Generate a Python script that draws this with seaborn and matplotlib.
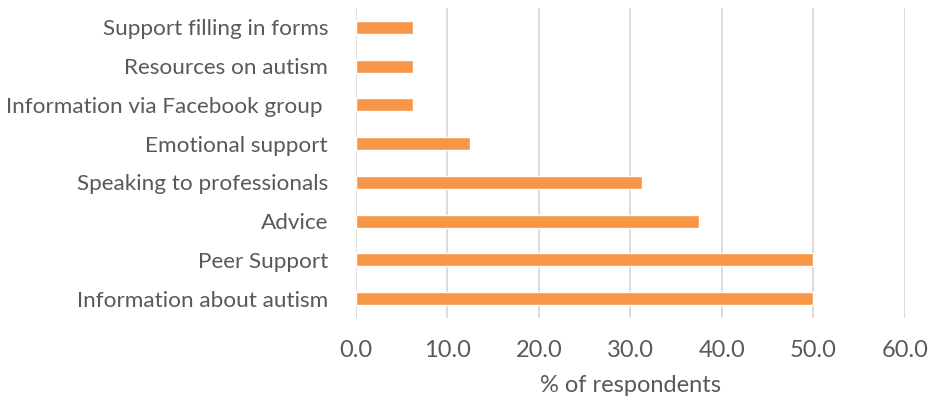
import matplotlib
matplotlib.use("Agg")
import matplotlib.pyplot as plt
import seaborn as sns
import pandas as pd

categories = [
    "Support filling in forms",
    "Resources on autism",
    "Information via Facebook group ",
    "Emotional support",
    "Speaking to professionals",
    "Advice",
    "Peer Support",
    "Information about autism",
]
percent = [6.25, 6.25, 6.25, 12.5, 31.25, 37.5, 50.0, 50.0]
x_ticks = [0, 10, 20, 30, 40, 50, 60]

df = pd.DataFrame({"category": categories, "percent": percent})

sns.set_theme(style="white")
plt.rcParams["font.family"] = ["Lato", "DejaVu Sans"]
text_color = "#595959"

fig = plt.figure(figsize=(9.29, 4.03), dpi=100)
ax = fig.add_axes([0.383, 0.211, 0.591, 0.769])

sns.barplot(data=df, x="percent", y="category", orient="h",
            color="#F79646", width=0.34, saturation=1, ax=ax)

ax.set_xlim(0, 60)
ax.set_xticks(x_ticks)
ax.set_xticklabels([f"{v:.1f}" for v in x_ticks])
ax.xaxis.grid(True, color="#D9D9D9", linewidth=1.3)
ax.set_axisbelow(True)
for s in ax.spines.values():
    s.set_visible(False)
ax.tick_params(axis="both", length=0, colors=text_color)
ax.tick_params(axis="y", labelsize=16.2, pad=20)
ax.tick_params(axis="x", labelsize=17, pad=16)
ax.set_ylabel("")
ax.set_xlabel("% of respondents", fontsize=17, color=text_color, labelpad=10)

fig.savefig("out.png", dpi=100)
